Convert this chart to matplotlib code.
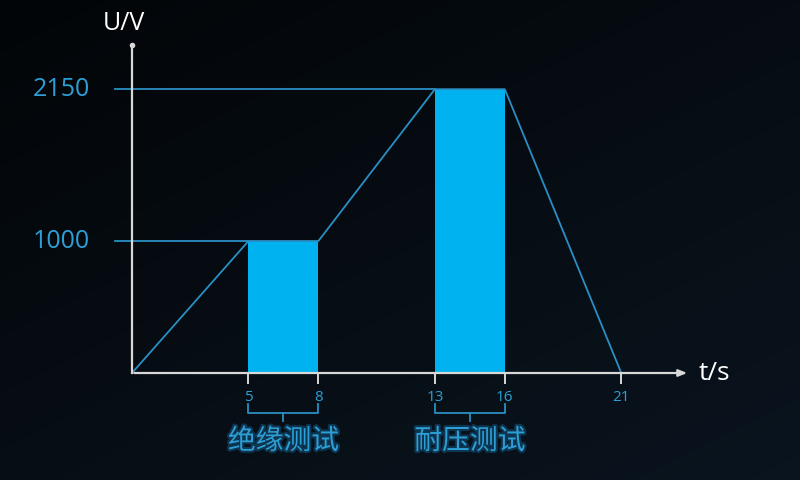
import numpy as np
import matplotlib.pyplot as plt
import matplotlib.patheffects as pe

plt.rcParams['font.family'] = ['Open Sans', 'Noto Sans CJK SC', 'DejaVu Sans']

# test voltage profile
t_points = [0, 5, 8, 13, 16, 21]
u_points = [0, 1000, 1000, 2150, 2150, 0]

tests = ["绝缘测试", "耐压测试"]
test_start = [5, 13]
test_end = [8, 16]
test_voltage = [1000, 2150]

tick_t = [5, 8, 13, 16, 21]
level_u = [1000, 2150]

bar_color = "#00b2f0"
line_color = "#2a8fc4"
label_color = "#2e9fd6"

x0, x1 = -5.665, 28.67
y0, y1 = -810.6, 2825.8

fig = plt.figure(figsize=(8, 4.8), dpi=100)
ax = fig.add_axes([0, 0, 1, 1])
ax.set_xlim(x0, x1)
ax.set_ylim(y0, y1)
ax.axis("off")

# pixel -> data sizes
px_t = (x1 - x0) / 800
px_u = (y1 - y0) / 480

# dark background gradient
yy, xx = np.mgrid[0:1:200j, 0:1:200j]
g = 0.55 * yy + 0.45 * xx
c0 = np.array([0.01, 0.02, 0.03])
c1 = np.array([0.04, 0.08, 0.12])
img = c0 + g[..., None] * (c1 - c0)
ax.imshow(img, extent=[x0, x1, y0, y1], origin="upper", aspect="auto", zorder=0)

# bars for the test phases
widths = [e - s for s, e in zip(test_start, test_end)]
ax.bar(test_start, test_voltage, width=widths, align="edge", color=bar_color, zorder=2)

# voltage curve
ax.plot(t_points, u_points, color=line_color, lw=1.3, zorder=3)

# reference level lines
for u, s in zip(level_u, test_start):
    ax.plot([-17 * px_t, s], [u, u], color=line_color, lw=1.3, zorder=3)
    ax.text(-42 * px_t, u, str(u), color=label_color, fontsize=18, ha="right", va="center", zorder=4)

# axes
ax.plot([0, 0], [0, 328 * px_u], color="#d8d8d8", lw=1.6, zorder=4)
ax.plot([0], [328 * px_u], "o", color="#d8d8d8", ms=3, zorder=4)
ax.annotate("", xy=(558 * px_t, 0), xytext=(-0.02, 0),
            arrowprops=dict(arrowstyle="-|>,head_length=0.5,head_width=0.2", color="#d8d8d8", lw=1.6),
            zorder=4)
ax.text(-8 * px_t, 350 * px_u, "U/V", color="white", fontsize=18, ha="center", va="center")
ax.text(567 * px_t, 0, "t/s", color="white", fontsize=19, ha="left", va="center")

# ticks on time axis
for t in tick_t:
    ax.plot([t, t], [0, -10 * px_u], color="#d8d8d8", lw=1.4, zorder=4)
    ax.text(t, -24 * px_u, str(t), color=label_color, fontsize=11, ha="center", va="center")

# brackets with test names
glow = [pe.withStroke(linewidth=3, foreground="#0d3550")]
for name, s, e in zip(tests, test_start, test_end):
    top = -31 * px_u
    bot = -40 * px_u
    mid = (s + e) / 2
    ax.plot([s, s, e, e], [top, bot, bot, top], color=line_color, lw=1.3)
    ax.plot([mid, mid], [bot, -48 * px_u], color=line_color, lw=1.3)
    ax.text(mid, -68 * px_u, name, color=label_color, fontsize=20, ha="center", va="center",
            family=['Noto Sans CJK SC', 'DejaVu Sans'], path_effects=glow)

fig.savefig("out.png", dpi=100)
